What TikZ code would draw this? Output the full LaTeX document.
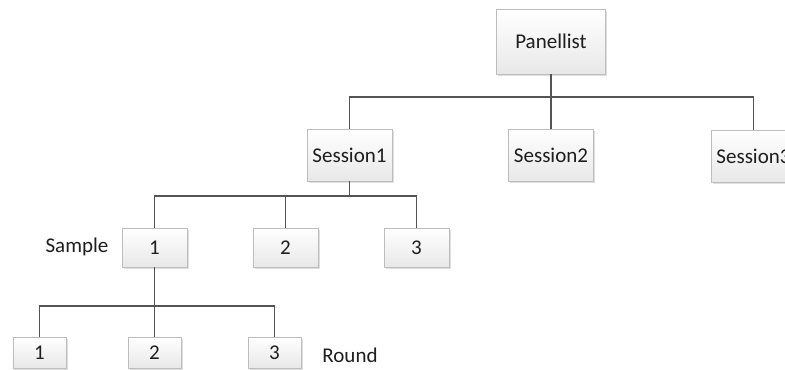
\documentclass[tikz,border=0pt]{standalone}
\usepackage{fontspec}
\setmainfont{Carlito}
\usetikzlibrary{shadows}
\definecolor{txt}{HTML}{1E1E1E}
\definecolor{edgec}{HTML}{555555}
\definecolor{bord}{HTML}{BDBDBD}
\begin{document}
\begin{tikzpicture}[x=1bp,y=-1bp,
  box/.style={draw=bord, line width=0.8bp, top color=white, bottom color=black!9,
    inner sep=0pt, text=txt, font=\fontsize{21bp}{25bp}\selectfont,
    drop shadow={shadow xshift=1.5bp, shadow yshift=-1.5bp, opacity=0.35, fill=black!35}},
  bigbox/.style={box, minimum width=109bp, minimum height=65bp},
  sessbox/.style={box, minimum width=85bp, minimum height=52bp},
  sampbox/.style={box, minimum width=65bp, minimum height=39bp},
  roundbox/.style={box, minimum width=53bp, minimum height=31bp},
  lbl/.style={text=txt, font=\fontsize{21bp}{25bp}\selectfont, inner sep=0pt},
  conn/.style={draw=edgec, line width=1.5bp}]
\useasboundingbox (0,0) rectangle (785,369);
\clip (0,0) rectangle (785,369);
\fill[white] (0,0) rectangle (785,369);
\coordinate (busA) at (0,97);
\coordinate (busB) at (0,196);
\coordinate (busC) at (0,306);
% nodes
\node[bigbox] (pan) at (551,41.5) {Panellist};
\node[sessbox] (s1) at (349.5,155) {Session1};
\node[sessbox] (s2) at (551,155) {Session2};
\node[sessbox] (s3) at (753.5,156) {Session3};
\node[sampbox] (a1) at (154.5,247.5) {1};
\node[sampbox] (a2) at (285.5,247.5) {2};
\node[sampbox] (a3) at (416.5,247.5) {3};
\node[roundbox] (r1) at (39.5,352.5) {1};
\node[roundbox] (r2) at (154.5,352.5) {2};
\node[roundbox] (r3) at (274.5,352.5) {3};
\node[lbl] (samplelbl) at (77,247) {Sample};
\node[lbl] (roundlbl) at (350,355) {Round};
% connectors
\draw[conn] (pan.south) -- (s2.north);
\draw[conn] (pan.south |- busA) -| (s1.north);
\draw[conn] (pan.south |- busA) -| (s3.north);
\draw[conn] (s1.south) -- (s1.south |- busB) -| (a1.north);
\draw[conn] (s1.south |- busB) -| (a2.north);
\draw[conn] (s1.south |- busB) -| (a3.north);
\draw[conn] (a1.south) -- (r2.north);
\draw[conn] (a1.south |- busC) -| (r1.north);
\draw[conn] (a1.south |- busC) -| (r3.north);
\end{tikzpicture}
\end{document}
